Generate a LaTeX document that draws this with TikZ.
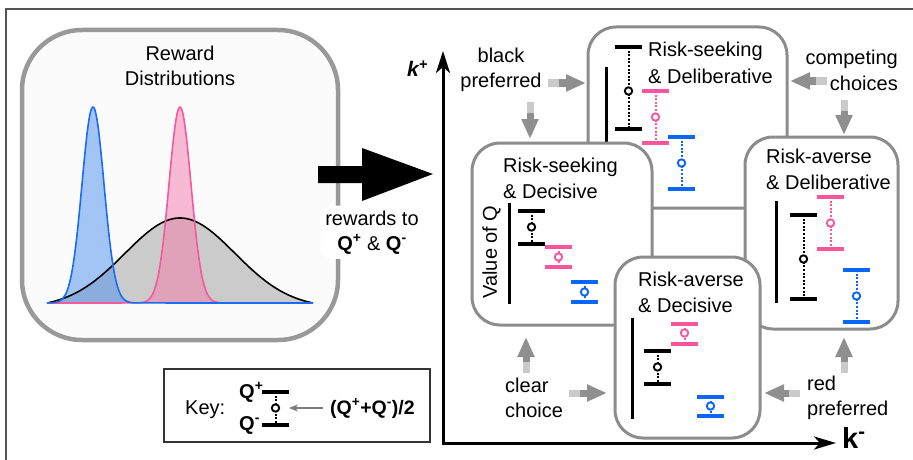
\documentclass[tikz,border=0pt]{standalone}
\usepackage{fontspec}
\setmainfont{Liberation Sans}
\usetikzlibrary{arrows.meta,calc}
\definecolor{framec}{HTML}{555555}
\definecolor{rboxc}{HTML}{999999}
\definecolor{rboxfill}{HTML}{FBFBFB}
\definecolor{panelc}{HTML}{8C8C8C}
\definecolor{pinkc}{HTML}{F8559A}
\definecolor{bluec}{HTML}{0A66F5}
\definecolor{bluecurve}{HTML}{1A6CF2}
\definecolor{pinkcurve}{HTML}{F45A9B}
\definecolor{bluefillc}{HTML}{4D91F1}
\definecolor{pinkfillc}{HTML}{F579AD}
\definecolor{grayfillc}{HTML}{CBCBCB}
\definecolor{glight}{HTML}{CACACA}
\definecolor{gmid}{HTML}{8F8F8F}
\definecolor{keyc}{HTML}{333333}
\definecolor{keyarrc}{HTML}{7A7A7A}
\newcommand\qbar[5]{%
  \draw[#5, line width=2pt, dash pattern=on 2pt off 1.6pt] (#1,#2) -- (#1,#3);
  \draw[#5, line width=3.5pt] ({#1-13.5},#2) -- ({#1+13.5},#2);
  \draw[#5, line width=3.5pt] ({#1-13.5},#3) -- ({#1+13.5},#3);
  \draw[#5, line width=1.9pt, fill=white] (#1,#4) circle[radius=3.7pt];}
\newcommand\garr[2]{%
  \draw[line width=7pt, draw=glight] (#1) -- ($(#1)!0.32!(#2)$);
  \draw[line width=7pt, draw=gmid, -{Triangle[length=20pt,width=16pt]}] ($(#1)!0.3!(#2)$) -- (#2);}
\begin{document}
\begin{tikzpicture}[x=1pt,y=-1pt,
  lbl/.style={font=\fontsize{20}{25}\selectfont, inner sep=0pt},
  ttl/.style={font=\fontsize{20}{26}\selectfont, inner sep=0pt, align=left, anchor=base west},
  panel/.style={draw=panelc, line width=3pt, fill=white, rounded corners=28pt, inner sep=0pt},
  rbox/.style={draw=rboxc, line width=4.5pt, fill=rboxfill, rounded corners=60pt, inner sep=0pt},
  axisline/.style={line width=3pt, black},
  vax/.style={line width=3pt, black}]
\useasboundingbox (0,0) rectangle (913,460);
\draw[framec, line width=1.5pt] (6,460) -- (6,9) -- (913,9);

% reward distributions
\node[rbox, minimum width=316pt, minimum height=310pt] (rew) at (180,185) {};
\fill[grayfillc] (47,303) -- plot[domain=47:313, samples=90] (\x, {303-85*(exp(-0.5*((\x-180)/55)*((\x-180)/55))-0.054)/0.946}) -- (313,303) -- cycle;
\fill[bluefillc, fill opacity=0.5] (47,303) -- plot[domain=47:137, samples=80] (\x, {303-196*exp(-0.5*((\x-93)/11)*((\x-93)/11))}) -- (137,303) -- cycle;
\fill[pinkfillc, fill opacity=0.5] (136,303) -- plot[domain=136:224, samples=80] (\x, {303-196*exp(-0.5*((\x-180)/11)*((\x-180)/11))}) -- (224,303) -- cycle;
\draw[black, line width=1.6pt] plot[domain=47:313, samples=90] (\x, {303-85*(exp(-0.5*((\x-180)/55)*((\x-180)/55))-0.054)/0.946});
\draw[pinkcurve, line width=1.6pt] (47,303) -- plot[domain=136:224, samples=80] (\x, {303-196*exp(-0.5*((\x-180)/11)*((\x-180)/11))});
\draw[bluecurve, line width=1.6pt] plot[domain=47:137, samples=80] (\x, {303-196*exp(-0.5*((\x-93)/11)*((\x-93)/11))}) -- (313,303);
\node[lbl, align=center, anchor=base] (rt) at (180,85) {Reward\\Distributions};

% big arrow
\fill[black] (318,166) -- (362,166) -- (362,148) -- (433,174) -- (362,201) -- (362,183) -- (318,183) -- cycle;
\node[lbl, align=center, anchor=base, fill=white, inner sep=5pt, rounded corners=12pt] (rq) at (372,250)
  {rewards to\\\textbf{Q\textsuperscript{+}} \& \textbf{Q\textsuperscript{-}}};

% key
\node[draw=keyc, line width=1.2pt, minimum width=266pt, minimum height=73pt, inner sep=0pt] (key) at (297,405.5) {};
\node[lbl, anchor=base west] (keyt) at (185,414) {Key:};
\node[inner sep=0pt, anchor=base west, font=\fontsize{20}{22}\selectfont\bfseries] (kqp) at (239,398) {Q\textsuperscript{+}};
\node[inner sep=0pt, anchor=base west, font=\fontsize{20}{22}\selectfont\bfseries] (kqm) at (239,430) {Q\textsuperscript{-}};
\qbar{275.5}{392}{425}{408}{black}
\node[inner sep=0pt, anchor=base west, font=\fontsize{19.5}{21}\selectfont\bfseries] (kavg) at (330,414) {(Q\textsuperscript{+}+Q\textsuperscript{-})/2};
\coordinate (kc) at (289,408);
\coordinate (ks) at (323,408);
\draw[keyarrc, line width=1.5pt, -{Stealth[length=9pt,width=7pt]}] (ks) -- (kc);

% axes
\coordinate (O) at (443,443);
\coordinate (Ytip) at (443,51);
\coordinate (Xtip) at (836,443);
\draw[axisline, {Stealth[length=22pt,width=14pt,inset=6pt]}-{Stealth[length=22pt,width=13pt,inset=6pt]}] (Ytip) -- (O) -- (Xtip);
\node[inner sep=0pt, anchor=base west, font=\fontsize{21}{23}\selectfont\bfseries\itshape] (kp) at (407,77) {k\textsuperscript{+}};
\node[inner sep=0pt, anchor=base west, font=\fontsize{29}{31}\selectfont\bfseries] (km) at (842,448) {k\textsuperscript{-}};

% top panel: Risk-seeking & Deliberative
\node[panel, minimum width=199pt, minimum height=181pt] (tp) at (687.5,117.5) {};
\node[ttl] (tpt) at (648,83) {Risk-seeking\\\& Deliberative};
\draw[vax] (606,67) -- (606,150);
\qbar{628.5}{47}{129}{91}{black}
\qbar{655.5}{91}{143}{117}{pinkc}
\qbar{681.5}{137}{189}{163}{bluec}

% right panel: Risk-averse & Deliberative
\node[panel, minimum width=153pt, minimum height=192pt] (rp) at (821.5,233) {};
\node[ttl] (rpt) at (766,189) {Risk-averse\\\& Deliberative};
\draw[vax] (776,201) -- (776,303);
\qbar{803.5}{215}{299}{259}{black}
\qbar{830.5}{197}{249}{223}{pinkc}
\qbar{856.5}{270}{322}{296}{bluec}

% left panel: Risk-seeking & Decisive
\node[panel, minimum width=180pt, minimum height=182pt] (lp) at (562,234) {};
\node[ttl] (lpt) at (503,198) {Risk-seeking\\\& Decisive};
\node[lbl, rotate=90] (voq) at (491.5,252) {Value of Q};
\draw[vax] (509,203) -- (509,304);
\qbar{531.5}{211}{244}{227}{black}
\qbar{558.5}{247}{267}{257}{pinkc}
\qbar{584.5}{282}{302}{292}{bluec}

% bottom panel: Risk-averse & Decisive
\node[panel, minimum width=145pt, minimum height=181pt] (bp) at (687.5,347.5) {};
\node[ttl] (bpt) at (638,312) {Risk-averse\\\& Decisive};
\draw[vax] (632,318) -- (632,419);
\qbar{684.5}{324}{344}{333}{pinkc}
\qbar{657.5}{351}{384}{367}{black}
\qbar{710.5}{397}{416}{406}{bluec}

% gray arrows and their labels
\node[lbl, align=center, anchor=base] (blk) at (501,88) {black\\preferred};
\coordinate (a1s) at (548,83);  \coordinate (a1e) at (586,83);
\coordinate (a2s) at (530,102); \coordinate (a2e) at (530,139);
\garr{a1s}{a1e}
\garr{a2s}{a2e}

\node[lbl, align=right, anchor=base east] (cmp) at (898,90) {competing\\choices};
\coordinate (b1s) at (827,81);  \coordinate (b1e) at (790,81);
\coordinate (b2s) at (844,100); \coordinate (b2e) at (844,135);
\garr{b1s}{b1e}
\garr{b2s}{b2e}

\node[lbl, align=left, anchor=base west] (clr) at (505,417) {clear\\choice};
\coordinate (c1s) at (526,373); \coordinate (c1e) at (526,337);
\coordinate (c2s) at (569,393); \coordinate (c2e) at (607,393);
\garr{c1s}{c1e}
\garr{c2s}{c2e}

\node[lbl, align=left, anchor=base west] (red) at (807,415) {red\\preferred};
\coordinate (d1s) at (800,393); \coordinate (d1e) at (764,393);
\coordinate (d2s) at (844,373); \coordinate (d2e) at (844,337);
\garr{d1s}{d1e}
\garr{d2s}{d2e}
\end{tikzpicture}
\end{document}
